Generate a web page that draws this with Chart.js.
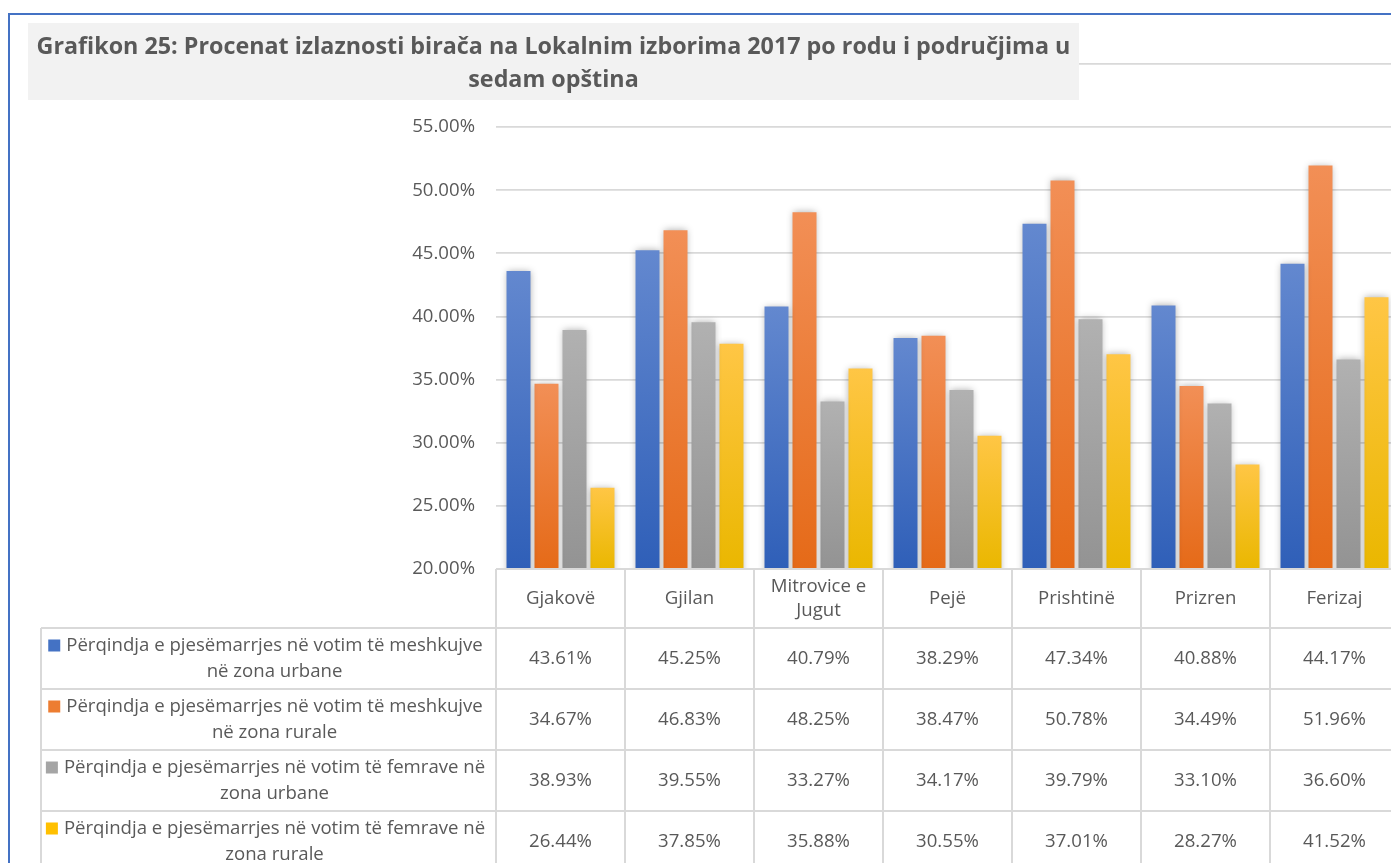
<!DOCTYPE html>
<html><head><meta charset="utf-8">
<script src="https://cdn.jsdelivr.net/npm/chart.js@4.4.0/dist/chart.umd.min.js"></script>
<style>
html,body{margin:0;padding:0;overflow:hidden;background:#fff}
#wrap{position:absolute;left:0;top:0;width:1420px;height:900px}
</style></head>
<body><div id="wrap"><canvas id="c" width="1420" height="900"></canvas></div>
<script>
// ---- data ----
const titleLines = ['Grafikon 25: Procenat izlaznosti birača na Lokalnim izborima 2017 po rodu i područjima u', 'sedam opština'];
const categories = [['Gjakovë'], ['Gjilan'], ['Mitrovice e', 'Jugut'], ['Pejë'], ['Prishtinë'], ['Prizren'], ['Ferizaj']];
const seriesNames = [
  ['Përqindja e pjesëmarrjes në votim të meshkujve', 'në zona urbane'],
  ['Përqindja e pjesëmarrjes në votim të meshkujve', 'në zona rurale'],
  ['Përqindja e pjesëmarrjes në votim të femrave në', 'zona urbane'],
  ['Përqindja e pjesëmarrjes në votim të femrave në', 'zona rurale']
];
const maleUrban   = [43.61, 45.25, 40.79, 38.29, 47.34, 40.88, 44.17];
const maleRural   = [34.67, 46.83, 48.25, 38.47, 50.78, 34.49, 51.96];
const femaleUrban = [38.93, 39.55, 33.27, 34.17, 39.79, 33.10, 36.60];
const femaleRural = [26.44, 37.85, 35.88, 30.55, 37.01, 28.27, 41.52];
const yMin = 20, yMax = 60, yStep = 5;

// ---- styles ----
const FONT = '"Open Sans", "Noto Sans", sans-serif';
const TXT = '#595959';
const GRID = '#d9d9d9';
const solid = ['#4472c4', '#ed7d31', '#a5a5a5', '#ffc000'];
const gTop = ['#6388cf', '#f28f56', '#b1b1b1', '#ffc645'];
const gBot = ['#2f5fb8', '#e56a18', '#939393', '#eab700'];

function grad(i) {
  return (ctx) => {
    const ch = ctx.chart;
    if (!ch.chartArea || ctx.type !== 'data' || !ch.scales.y) return solid[i];
    const ys = ch.scales.y;
    const y0 = ys.getPixelForValue(ctx.raw), y1 = ys.getPixelForValue(yMin);
    if (!isFinite(y0) || !isFinite(y1) || y0 === y1) return solid[i];
    const g = ch.ctx.createLinearGradient(0, y0, 0, y1);
    g.addColorStop(0, gTop[i]);
    g.addColorStop(1, gBot[i]);
    return g;
  };
}

const seriesValues = [maleUrban, maleRural, femaleUrban, femaleRural];
const datasets = seriesValues.map((vals, i) => ({
  label: seriesNames[i].join(' '),
  data: vals,
  backgroundColor: grad(i),
  borderWidth: 0,
  categoryPercentage: 0.868,
  barPercentage: 0.857
}));

const shadowPlugin = {
  id: 'shadow',
  beforeDatasetsDraw(chart) {
    const c = chart.ctx; c.save();
    c.shadowColor = 'rgba(0,0,0,0.32)'; c.shadowBlur = 7; c.shadowOffsetX = 0; c.shadowOffsetY = 0;
  },
  afterDatasetsDraw(chart) { chart.ctx.restore(); }
};

const HEADER_H = 59, ROW_H = 61, LEG_LEFT = 41;

const tablePlugin = {
  id: 'table',
  afterDraw(chart) {
    const c = chart.ctx, a = chart.chartArea, xs = chart.scales.x;
    const n = categories.length;
    const cw = (a.right - a.left) / n;
    const top = a.bottom;
    const rowTop = top + HEADER_H;
    const bottom = rowTop + ROW_H * seriesNames.length;
    c.save();
    c.strokeStyle = GRID; c.lineWidth = 2;
    c.beginPath();
    c.moveTo(a.left, top); c.lineTo(a.right, top);
    for (let r = 0; r <= seriesNames.length; r++) {
      const y = rowTop + r * ROW_H;
      c.moveTo(LEG_LEFT, y); c.lineTo(a.right, y);
    }
    c.moveTo(LEG_LEFT, rowTop); c.lineTo(LEG_LEFT, bottom);
    for (let i = 0; i <= n; i++) {
      const x = a.left + i * cw;
      c.moveTo(x, top); c.lineTo(x, bottom);
    }
    c.stroke();

    c.fillStyle = TXT;
    c.font = '18.6px ' + FONT;
    c.textAlign = 'center'; c.textBaseline = 'middle';
    categories.forEach((lab, i) => {
      const x = xs.getPixelForValue(i);
      const cy = top + HEADER_H / 2;
      const lh = 24;
      lab.forEach((t, k) => c.fillText(t, x, cy + (k - (lab.length - 1) / 2) * lh));
    });
    const legCenter = (LEG_LEFT + a.left) / 2 + 6;
    seriesNames.forEach((lines, r) => {
      const cy = rowTop + r * ROW_H + ROW_H / 2;
      const lh = 26;
      lines.forEach((t, k) => {
        const y = cy + (k - (lines.length - 1) / 2) * lh;
        c.fillStyle = TXT;
        c.fillText(t, legCenter, y);
        if (k === 0) {
          const w = c.measureText(t).width;
          c.fillStyle = solid[r];
          c.fillRect(legCenter - w / 2 - 18, y - 6, 12, 12);
        }
      });
      c.fillStyle = TXT;
      seriesValues[r].forEach((v, i) => {
        c.fillText(v.toFixed(2) + '%', xs.getPixelForValue(i), cy);
      });
    });

    // title box
    c.fillStyle = '#f2f2f2';
    c.fillRect(28, 23, 1051, 77);
    c.fillStyle = TXT;
    c.font = 'bold 23.3px ' + FONT;
    const tc = 28 + 1051 / 2;
    titleLines.forEach((t, k) => c.fillText(t, tc, 47 + k * 33));

    // outer blue border
    c.strokeStyle = '#4472c4'; c.lineWidth = 2;
    c.beginPath();
    c.moveTo(9, 900); c.lineTo(9, 14); c.lineTo(1420, 14);
    c.stroke();
    c.restore();
  }
};

new Chart(document.getElementById('c'), {
  type: 'bar',
  data: { labels: categories.map(l => l.join(' ')), datasets },
  options: {
    responsive: false,
    animation: false,
    devicePixelRatio: 1,
    layout: { padding: { left: 0, right: 21, top: 64, bottom: 331 } },
    plugins: { legend: { display: false }, tooltip: { enabled: false }, title: { display: false } },
    scales: {
      x: { display: false, grid: { display: false } },
      y: {
        min: yMin, max: yMax,
        afterFit(s) { s.width = 496; },
        border: { display: false },
        grid: { color: GRID, lineWidth: 1.8, drawTicks: false },
        ticks: {
          stepSize: yStep, padding: 21, color: TXT,
          font: { family: FONT, size: 18.6 },
          callback: v => v.toFixed(2) + '%'
        }
      }
    }
  },
  plugins: [shadowPlugin, tablePlugin]
});
</script>
</body></html>
